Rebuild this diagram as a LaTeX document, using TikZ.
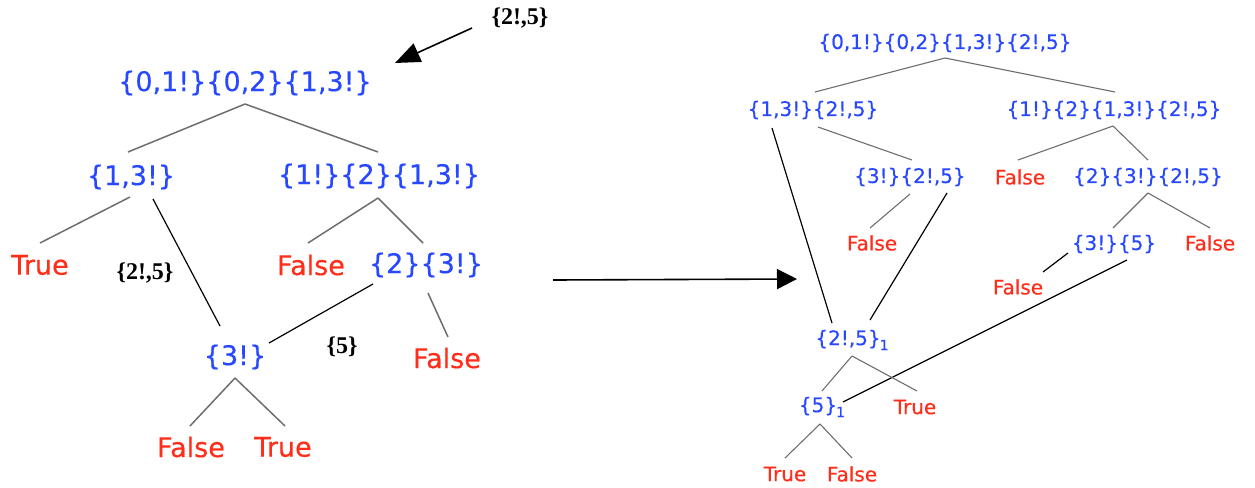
\documentclass[tikz,border=0pt]{standalone}
\usepackage{fontspec}
\newfontfamily\dv{DejaVu Sans}[FakeBold=0.35]
\newfontfamily\tms{Liberation Serif}
\usetikzlibrary{calc,arrows.meta}
\definecolor{setblue}{RGB}{40,72,255}
\definecolor{resred}{RGB}{255,45,25}
\definecolor{edgegrey}{RGB}{110,110,110}
\begin{document}
\begin{tikzpicture}[x=0.5pt,y=-0.5pt,
  every node/.style={inner sep=0pt,outer sep=0pt,anchor=center},
  bigset/.style={text=setblue,font=\dv\fontsize{13.5}{14}\selectfont},
  bigres/.style={text=resred,font=\dv\fontsize{13.5}{14}\selectfont},
  smallset/.style={text=setblue,font=\dv\fontsize{10}{11}\selectfont},
  smallres/.style={text=resred,font=\dv\fontsize{10}{11}\selectfont},
  annot/.style={text=black,font=\tms\bfseries\fontsize{12}{13}\selectfont},
  gedge/.style={draw=edgegrey,line width=0.75pt},
  gedgeR/.style={draw=edgegrey,line width=0.55pt},
  bedge/.style={draw=black,line width=0.6pt},
  bigarrow/.style={draw=black,line width=0.8pt,-{Triangle[length=12.5pt,width=10pt]}},
  midarrow/.style={draw=black,line width=0.8pt,-{Triangle[length=10pt,width=10pt]}}]
\useasboundingbox (0,0) rectangle (1255,488);
\newcommand{\subone}{\kern-0.5pt{\fontsize{7}{7}\selectfont\raisebox{-2.5pt}{1}}}
% ---------------- left tree ----------------
\node[bigset] (L0) at (245,83) {\{0,1!\}\{0,2\}\{1,3!\}};
\node[bigset] (L1) at (131,177) {\{1,3!\}};
\node[bigset] (L2) at (379,176) {\{1!\}\{2\}\{1,3!\}};
\node[bigres] (L3) at (40,265) {True};
\node[bigres] (L4) at (311,265) {False};
\node[bigset] (L5) at (426,265) {\{2\}\{3!\}};
\node[bigset] (L6) at (235,357) {\{3!\}};
\node[bigres] (L7) at (447,358) {False};
\node[bigres] (L8) at (191,447) {False};
\node[bigres] (L9) at (283,447) {True};
\node[annot] (T1) at (520,18) {\{2!,5\}};
\node[annot] (T2) at (145,273) {\{2!,5\}};
\node[annot] (T3) at (342,347) {\{5\}};
\draw[gedge] ($(L0)+(0,21)$) -- ($(L1)+(-3,-25)$);
\draw[gedge] ($(L0)+(0,21)$) -- ($(L2)+(-1,-24)$);
\draw[gedge] ($(L1)+(-1,20)$) -- ($(L3)+(0,-22)$);
\draw[bedge] ($(L1)+(22,22)$) -- ($(L6)+(-15,-31)$);
\draw[gedge] ($(L2)+(-1,22)$) -- ($(L4)+(-3,-22)$);
\draw[gedge] ($(L2)+(-1,22)$) -- ($(L5)+(-3,-22)$);
\draw[bedge] ($(L5)+(-53,19)$) -- ($(L6)+(34,-14)$);
\draw[gedge] ($(L5)+(2,28)$) -- ($(L7)+(1,-21)$);
\draw[gedge] ($(L6)+(0,21)$) -- ($(L8)+(-1,-21)$);
\draw[gedge] ($(L6)+(0,21)$) -- ($(L9)+(2,-21)$);
\draw[bigarrow] ($(T1)+(-48,10)$) -- ($(L0)+(150,-20)$);
% ---------------- middle arrow ----------------
\coordinate (MA) at (553,280);
\coordinate (MB) at (797,279);
\draw[midarrow] (MA) -- (MB);
% ---------------- right tree ----------------
\node[smallset] (R0) at (945,43) {\{0,1!\}\{0,2\}\{1,3!\}\{2!,5\}};
\node[smallset] (R1) at (813,110) {\{1,3!\}\{2!,5\}};
\node[smallset] (R2) at (1114,110) {\{1!\}\{2\}\{1,3!\}\{2!,5\}};
\node[smallset] (R3) at (910,177) {\{3!\}\{2!,5\}};
\node[smallres] (R4) at (1020,177) {False};
\node[smallset] (R5) at (1148,177) {\{2\}\{3!\}\{2!,5\}};
\node[smallres] (R6) at (872,243) {False};
\node[smallset] (R7) at (1114,244) {\{3!\}\{5\}};
\node[smallres] (R8) at (1210,243) {False};
\node[smallres] (R9) at (1018,287) {False};
\node[smallset] (R10) at (852,340) {\{2!,5\}\subone};
\node[smallset] (R11) at (822,407) {\{5\}\subone};
\node[smallres] (R12) at (915,407) {True};
\node[smallres] (R13) at (785,474) {True};
\node[smallres] (R14) at (852,474) {False};
\draw[gedgeR] ($(R0)+(0,15)$) -- ($(R1)+(2,-18)$);
\draw[gedgeR] ($(R0)+(0,15)$) -- ($(R2)+(1,-18)$);
\draw[bedge] ($(R1)+(-41,18)$) -- ($(R10)+(-20,-17)$);
\draw[gedgeR] ($(R1)+(5,17)$) -- ($(R3)+(2,-17)$);
\draw[gedgeR] ($(R2)+(-1,16)$) -- ($(R4)+(-2,-17)$);
\draw[gedgeR] ($(R2)+(-1,16)$) -- ($(R5)+(0,-17)$);
\draw[gedgeR] ($(R3)+(0,17)$) -- ($(R6)+(-2,-15)$);
\draw[bedge] ($(R3)+(37,16)$) -- ($(R10)+(18,-20)$);
\draw[gedgeR] ($(R5)+(0,16)$) -- ($(R7)+(-1,-16)$);
\draw[gedgeR] ($(R5)+(0,16)$) -- ($(R8)+(0,-15)$);
\draw[bedge] ($(R7)+(-46,9)$) -- ($(R9)+(25,-15)$);
\draw[bedge] ($(R7)+(13,16)$) -- ($(R11)+(21,-5)$);
\draw[gedgeR] ($(R10)+(0,16)$) -- ($(R11)+(0,-16)$);
\draw[gedgeR] ($(R10)+(0,16)$) -- ($(R12)+(2,-16)$);
\draw[gedgeR] ($(R11)+(-2,17)$) -- ($(R13)+(0,-16)$);
\draw[gedgeR] ($(R11)+(-2,17)$) -- ($(R14)+(0,-16)$);
\end{tikzpicture}
\end{document}
